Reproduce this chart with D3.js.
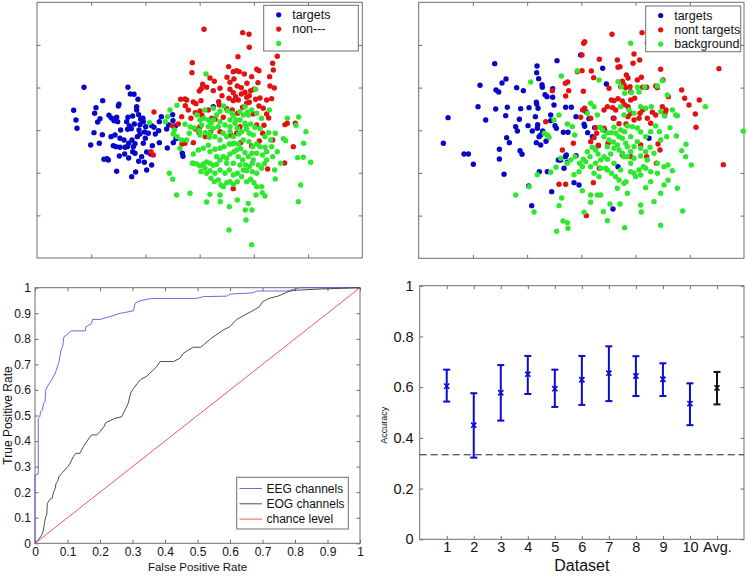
<!DOCTYPE html>
<html>
<head>
<meta charset="utf-8">
<script src="https://cdn.jsdelivr.net/npm/d3@7"></script>
<style>
  body { margin: 0; background: #fff; }
  svg { font-family: "Liberation Sans", Arial, Helvetica, sans-serif; }
</style>
</head>
<body>
<svg width="748" height="576"></svg>
<script>
// ---- scatter data (arbitrary projection units) ----
// left panel
const leftTargets = [[252,538],[221,469],[228,440],[231,415],[288,477],[284,460],[308,498],[282,402],[300,444],[293,434],[272,365],[298,370],[307,396],[327,454],[334,446],[342,438],[350,448],[357,487],[355,482],[340,363],[333,390],[345,395],[353,435],[384,538],[391,518],[402,517],[414,502],[410,480],[384,448],[380,435],[388,422],[398,452],[410,470],[416,456],[422,442],[429,445],[430,435],[420,426],[403,428],[394,414],[383,412],[362,410],[360,385],[372,380],[386,370],[396,380],[405,369],[400,360],[382,360],[374,338],[358,332],[386,326],[405,340],[425,330],[416,316],[440,290],[433,313],[440,344],[430,370],[436,385],[445,400],[455,423],[462,418],[466,398],[457,363],[455,305],[407,284],[395,270],[350,286],[321,324],[312,322],[325,320],[348,360],[360,358],[375,358],[398,345],[412,390],[434,404],[420,398],[484,450],[478,435],[476,408],[500,413],[502,356],[518,456],[519,438],[526,422],[520,372],[528,384],[547,340],[549,331],[640,480],[452,338],[478,372],[506,425],[437,420],[417,410]];
const leftNonTargets = [[612,712],[728,702],[747,697],[748,658],[714,630],[832,631],[818,610],[577,612],[576,582],[686,600],[700,585],[710,588],[718,585],[733,578],[770,592],[777,588],[820,590],[755,570],[630,566],[608,547],[643,556],[681,568],[690,553],[702,563],[712,542],[724,537],[741,550],[752,528],[774,552],[800,500],[809,570],[823,536],[815,504],[767,502],[748,493],[735,523],[724,518],[715,500],[700,498],[687,505],[666,513],[656,495],[640,528],[620,538],[604,534],[603,498],[598,527],[588,489],[580,494],[560,500],[556,483],[542,502],[555,503],[565,470],[573,445],[545,450],[535,428],[518,422],[462,464],[600,467],[606,454],[586,462],[625,470],[635,445],[645,442],[670,448],[680,474],[697,470],[713,460],[728,478],[740,490],[760,458],[777,482],[790,475],[800,458],[806,446],[855,426],[862,430],[886,430],[880,360],[854,311],[803,293],[818,380],[788,400],[778,377],[755,362],[722,372],[710,400],[693,395],[660,405],[632,403],[616,390],[597,402],[586,413],[555,370],[546,368],[580,372],[453,345],[460,335],[700,234],[780,506],[810,542],[762,532],[690,532],[660,535],[740,508],[748,513],[700,522],[707,510],[792,424],[720,420],[600,420],[770,425],[658,485]];
const leftBackground = [[618,578],[767,532],[808,470],[862,445],[896,449],[888,424],[918,405],[911,370],[932,313],[910,328],[893,327],[902,245],[895,195],[857,378],[850,384],[826,400],[812,380],[815,360],[832,345],[842,310],[824,290],[826,263],[800,320],[793,309],[788,335],[780,360],[770,368],[760,395],[748,400],[740,412],[735,430],[720,440],[708,440],[700,453],[696,460],[682,468],[671,482],[660,466],[650,455],[640,440],[633,430],[625,440],[612,445],[605,425],[598,408],[583,416],[571,419],[555,427],[531,484],[510,470],[503,450],[496,435],[448,432],[523,410],[532,390],[545,380],[600,395],[616,402],[630,400],[645,390],[660,380],[680,390],[690,405],[700,390],[716,398],[730,380],[747,375],[758,360],[770,340],[760,320],[748,300],[737,305],[728,320],[715,330],[702,345],[690,338],[680,325],[670,330],[660,320],[650,307],[640,304],[630,310],[620,314],[610,308],[600,302],[590,308],[580,310],[603,285],[620,280],[633,265],[643,255],[655,260],[663,245],[670,240],[680,252],[690,255],[700,247],[712,255],[725,270],[740,255],[752,262],[762,252],[770,240],[785,240],[795,212],[787,222],[768,215],[745,190],[736,170],[738,140],[756,170],[712,200],[688,180],[661,195],[660,215],[630,217],[620,194],[570,220],[530,215],[508,280],[518,262],[687,110],[755,66],[577,310],[580,338],[595,350],[610,355],[630,345],[645,352],[660,355],[672,360],[688,368],[702,370],[715,368],[722,354],[735,342],[745,330],[757,310],[775,305],[785,295],[770,280],[757,285],[740,288],[730,290],[712,280],[700,275],[688,290],[675,280],[660,290],[645,280],[630,288],[615,295],[690,420],[712,415],[725,405],[738,422],[752,428],[765,418],[780,414],[795,390],[806,402],[785,445],[770,460],[755,470],[742,463],[730,455],[655,420],[640,415],[625,420],[675,425],[660,435],[690,440],[705,430],[720,465],[735,480],[745,455],[600,440],[590,455],[615,470],[640,475],[520,398],[540,355],[560,380],[568,400],[625,364],[800,345],[818,330],[756,340],[795,358],[680,310],[700,310],[720,305],[650,330],[696,368],[710,350],[670,400],[628,388]];

// right panel
const rightTargets = [[362,609],[318,544],[222,447],[208,370],[270,338],[283,338],[298,307],[312,480],[335,440],[366,530],[374,524],[384,551],[396,563],[365,473],[395,453],[400,478],[398,387],[406,372],[376,352],[376,323],[390,277],[428,537],[448,528],[425,420],[430,407],[436,442],[440,474],[438,348],[444,337],[465,477],[462,423],[475,407],[484,450],[487,493],[489,602],[488,582],[494,564],[488,488],[492,475],[491,426],[490,415],[495,390],[487,372],[500,395],[505,538],[513,516],[504,546],[519,510],[506,407],[500,365],[496,285],[516,376],[520,285],[530,438],[530,455],[536,534],[536,508],[540,485],[543,423],[549,618],[547,415],[553,320],[568,403],[575,478],[582,403],[577,335],[580,313],[592,478],[606,450],[620,635],[606,333],[600,252],[615,245],[632,421],[630,427],[641,402],[645,444],[655,390],[662,417],[673,363],[686,595],[692,409],[697,548],[718,445],[732,300],[717,173],[464,242],[473,183],[533,225],[570,295],[560,320],[636,465],[825,385],[574,330]];
const rightNonTargets = [[714,697],[804,702],[820,672],[632,675],[629,670],[624,635],[676,622],[730,620],[738,600],[732,598],[780,638],[777,610],[797,620],[860,592],[867,560],[757,575],[762,566],[745,556],[750,546],[740,540],[755,537],[768,540],[770,525],[790,560],[802,568],[806,538],[818,538],[845,542],[850,537],[883,510],[923,530],[932,505],[976,500],[945,485],[964,458],[966,418],[1035,594],[1048,306],[610,585],[624,588],[652,587],[659,567],[581,554],[574,550],[584,528],[575,512],[535,528],[628,526],[705,535],[712,500],[720,498],[716,477],[700,480],[690,470],[725,470],[732,504],[745,497],[752,486],[770,500],[782,505],[762,480],[770,460],[798,460],[806,470],[820,445],[830,430],[865,480],[876,470],[873,460],[835,463],[845,455],[795,445],[780,440],[762,450],[756,428],[735,429],[720,445],[690,415],[665,417],[650,445],[620,448],[632,475],[626,470],[515,435],[565,350],[598,370],[660,387],[668,400],[673,364],[702,370],[745,335],[770,330],[800,365],[818,330],[852,368],[858,350],[847,310],[555,247],[575,247],[637,153],[658,252],[676,295],[650,375]];
const rightBackground = [[770,670],[610,588],[562,572],[470,554],[675,560],[732,555],[742,540],[790,538],[812,538],[850,542],[865,558],[880,515],[895,470],[905,455],[910,453],[888,417],[907,392],[923,348],[936,367],[952,305],[994,480],[1108,406],[878,390],[860,380],[856,405],[845,422],[830,405],[815,390],[800,404],[790,416],[775,420],[760,422],[750,455],[740,480],[765,470],[780,460],[800,480],[815,475],[832,480],[860,465],[872,452],[795,524],[772,522],[752,520],[555,455],[540,440],[580,428],[595,420],[602,395],[640,460],[650,490],[660,480],[670,455],[678,418],[685,410],[700,402],[712,402],[725,400],[735,390],[745,385],[755,370],[770,390],[790,375],[800,355],[815,345],[828,358],[840,340],[820,320],[808,300],[795,290],[780,280],[770,310],[760,330],[745,340],[735,350],[720,355],[710,338],[700,322],[690,330],[680,320],[672,338],[665,350],[655,358],[640,345],[628,322],[617,310],[603,330],[590,320],[580,310],[560,325],[546,298],[530,283],[520,395],[511,400],[525,388],[490,276],[480,164],[465,240],[425,215],[548,106],[567,137],[580,132],[582,115],[555,183],[563,206],[600,276],[615,285],[625,228],[650,215],[670,215],[680,215],[650,193],[630,163],[688,165],[700,138],[708,188],[730,235],[750,250],[752,117],[738,188],[760,220],[770,285],[785,270],[800,275],[800,185],[802,164],[815,237],[830,255],[840,195],[860,220],[860,124],[870,245],[882,259],[895,288],[910,235],[926,167],[935,330],[650,300],[660,280],[675,270],[700,290],[712,280],[725,270],[740,290],[756,255],[735,260],[720,310],[695,295],[680,295],[665,310],[648,330],[635,315],[625,300],[770,345],[780,360],[750,330],[730,365],[718,374],[705,380],[690,390],[720,418],[740,410],[752,405],[760,360],[700,360],[780,325],[800,332],[850,310],[870,300],[882,305],[850,280],[830,285],[815,295]];

// ---- ROC curves, [false positive rate, true positive rate] ----
const eegRoc = [[0,0],[0,0.267],[0.010,0.271],[0.010,0.489],[0.015,0.495],[0.017,0.515],[0.023,0.522],[0.026,0.548],[0.031,0.553],[0.033,0.600],[0.041,0.619],[0.051,0.639],[0.062,0.665],[0.069,0.691],[0.074,0.711],[0.080,0.756],[0.085,0.769],[0.089,0.808],[0.097,0.815],[0.111,0.831],[0.154,0.831],[0.157,0.847],[0.174,0.860],[0.177,0.876],[0.2,0.876],[0.231,0.887],[0.262,0.900],[0.274,0.902],[0.303,0.91],[0.308,0.939],[0.323,0.949],[0.359,0.958],[0.497,0.958],[0.518,0.965],[0.59,0.967],[0.6,0.975],[0.672,0.98],[0.682,0.987],[0.774,0.987],[0.795,0.993],[0.815,1],[1,1]];
const eogRoc = [[0,0],[0.010,0.013],[0.021,0.033],[0.026,0.052],[0.029,0.078],[0.033,0.104],[0.036,0.111],[0.038,0.156],[0.046,0.172],[0.053,0.176],[0.056,0.196],[0.062,0.215],[0.065,0.235],[0.069,0.241],[0.074,0.261],[0.082,0.274],[0.092,0.287],[0.101,0.300],[0.108,0.313],[0.113,0.326],[0.118,0.339],[0.126,0.352],[0.138,0.352],[0.149,0.378],[0.159,0.398],[0.174,0.424],[0.190,0.424],[0.2,0.437],[0.212,0.456],[0.218,0.472],[0.231,0.480],[0.246,0.489],[0.267,0.495],[0.277,0.522],[0.287,0.548],[0.294,0.587],[0.303,0.606],[0.315,0.626],[0.325,0.641],[0.344,0.654],[0.364,0.678],[0.374,0.691],[0.385,0.711],[0.426,0.711],[0.446,0.724],[0.456,0.743],[0.472,0.756],[0.487,0.767],[0.51,0.767],[0.54,0.8],[0.58,0.835],[0.6,0.848],[0.62,0.875],[0.64,0.89],[0.67,0.91],[0.69,0.925],[0.70,0.945],[0.72,0.958],[0.75,0.968],[0.78,0.985],[0.80,0.99],[0.88,0.995],[1,1]];
const chanceRoc = [[0,0],[1,1]];
const rocTicks = [0,0.1,0.2,0.3,0.4,0.5,0.6,0.7,0.8,0.9,1];
const rocTickLabels = ['0','0.1','0.2','0.3','0.4','0.5','0.6','0.7','0.8','0.9','1'];

// ---- accuracy per dataset ----
const datasets = ['1','2','3','4','5','6','7','8','9','10','Avg.'];
const accMean = [0.604,0.45,0.578,0.651,0.594,0.629,0.655,0.644,0.631,0.535,0.597];
const accLow  = [0.543,0.322,0.468,0.573,0.522,0.530,0.545,0.565,0.565,0.45,0.532];
const accHigh = [0.669,0.576,0.687,0.723,0.669,0.723,0.761,0.722,0.694,0.615,0.66];
const chanceAcc = 1/3;
const accTicks = [0,0.2,0.4,0.6,0.8,1];
const accTickLabels = ['0','0.2','0.4','0.6','0.8','1'];

const svg = d3.select('svg');
const frameColor = '#6f6f6f';
const tickLen = 3.5;

// MATLAB-like box: ticks inward on all four sides, labels only left/bottom
function boxAxes(x, y, xt, yt, xfmt, yfmt, fontSize, padX, padY) {
    const [x0, x1] = x.range();
    const [y0, y1] = y.range(); // y0 = bottom
    const g = svg.append('g');
    const clean = a => { a.select('.domain').remove(); a.selectAll('line').attr('stroke', frameColor); a.selectAll('text').attr('fill', '#111').style('font-size', fontSize + 'px'); };
    g.append('g').attr('transform', `translate(0,${y0})`)
        .call(d3.axisBottom(x).tickValues(xt).tickFormat(xfmt).tickSizeInner(-tickLen).tickSizeOuter(0).tickPadding(padX)).call(clean);
    g.append('g').attr('transform', `translate(0,${y1})`)
        .call(d3.axisTop(x).tickValues(xt).tickFormat('').tickSizeInner(-tickLen).tickSizeOuter(0)).call(clean);
    g.append('g').attr('transform', `translate(${x0},0)`)
        .call(d3.axisLeft(y).tickValues(yt).tickFormat(yfmt).tickSizeInner(-tickLen).tickSizeOuter(0).tickPadding(padY)).call(clean);
    g.append('g').attr('transform', `translate(${x1},0)`)
        .call(d3.axisRight(y).tickValues(yt).tickFormat('').tickSizeInner(-tickLen).tickSizeOuter(0)).call(clean);
    g.append('rect').attr('x', x0).attr('y', y1).attr('width', x1 - x0).attr('height', y0 - y1)
        .attr('fill', 'none').attr('stroke', frameColor).attr('stroke-width', 1);
}

const colors = { targets: '#0707c8', non: '#e21212', bg: '#2ee82e' };

function scatterPanel(xs, ys, groups, legendBox, legendItems) {
    const xd = xs.domain(), yd = ys.domain();
    const xt = d3.range(1, 6).map(i => xd[0] + i * (xd[1] - xd[0]) / 6);
    const yt = d3.range(1, 6).map(i => yd[0] + i * (yd[1] - yd[0]) / 6);
    boxAxes(xs, ys, xt, yt, '', '', 10, 0, 0);
    groups.forEach(([data, col]) => {
        svg.append('g').selectAll('circle').data(data).enter().append('circle')
            .attr('cx', d => xs(d[0])).attr('cy', d => ys(d[1])).attr('r', 2.7).attr('fill', col);
    });
    // legend
    const lg = svg.append('g');
    lg.append('rect').attr('x', legendBox[0]).attr('y', legendBox[1]).attr('width', legendBox[2]).attr('height', legendBox[3])
        .attr('fill', '#fff').attr('stroke', frameColor);
    legendItems.forEach((it, i) => {
        const cy = legendBox[1] + 9.5 + i * 14.3;
        lg.append('circle').attr('cx', legendBox[0] + 15).attr('cy', cy).attr('r', 2.6).attr('fill', it[1]);
        lg.append('text').attr('x', legendBox[0] + 28.5).attr('y', cy + 4.3).style('font-size', '12.5px').attr('fill', '#111').text(it[0]);
    });
}

// top-left
scatterPanel(
    d3.scaleLinear().domain([111, 1087]).range([37, 362.3]),
    d3.scaleLinear().domain([26, 793]).range([258, 2.3]),
    [[leftTargets, colors.targets], [leftNonTargets, colors.non], [leftBackground, colors.bg]],
    [263.7, 5.3, 94.6, 45.7],
    [['targets', colors.targets], ['non---', colors.non], ['', colors.bg]]
);

// top-right
scatterPanel(
    d3.scaleLinear().domain([134, 1110]).range([418.7, 744]),
    d3.scaleLinear().domain([25, 793]).range([258.3, 2.3]),
    [[rightTargets, colors.targets], [rightNonTargets, colors.non], [rightBackground, colors.bg]],
    [645.7, 6, 95, 45.7],
    [['targets', colors.targets], ['nont targets', colors.non], ['background', colors.bg]]
);

// ---- ROC panel ----
const rx = d3.scaleLinear().domain([0, 1]).range([35, 360]);
const ry = d3.scaleLinear().domain([0, 1]).range([543.3, 287.7]);
boxAxes(rx, ry, rocTicks, rocTicks, (d, i) => rocTickLabels[i], (d, i) => rocTickLabels[i], 12, 4, 4);

const line = d3.line().x(d => rx(d[0])).y(d => ry(d[1]));
const rocSeries = [
    ['EEG channels', eegRoc, '#5a5ae2'],
    ['EOG channels', eogRoc, '#3a3a3a'],
    ['chance level', chanceRoc, '#ec4646']
];
rocSeries.forEach(s => {
    svg.append('path').datum(s[1]).attr('d', line).attr('fill', 'none').attr('stroke', s[2]).attr('stroke-width', 0.9);
});

svg.append('text').attr('x', rx(0.5)).attr('y', 570.5).attr('text-anchor', 'middle').style('font-size', '11.5px').attr('fill', '#111').text('False Positive Rate');
svg.append('text').attr('transform', `translate(11.5,${ry(0.5)}) rotate(-90)`).attr('text-anchor', 'middle').style('font-size', '12px').attr('fill', '#111').text('True Positive Rate');

const rl = svg.append('g');
rl.append('rect').attr('x', 236.7).attr('y', 477.3).attr('width', 111.6).attr('height', 51.7).attr('fill', '#fff').attr('stroke', frameColor);
rocSeries.forEach((s, i) => {
    const yy = 488.5 + i * 15.3;
    rl.append('line').attr('x1', 239.5).attr('x2', 262).attr('y1', yy).attr('y2', yy).attr('stroke', s[2]).attr('stroke-width', 0.9);
    rl.append('text').attr('x', 266.5).attr('y', yy + 4.2).style('font-size', '12px').attr('fill', '#111').text(s[0]);
});

// ---- accuracy panel ----
const ax = d3.scaleLinear().domain([0, 12]).range([419.7, 744]);
const ay = d3.scaleLinear().domain([0, 1]).range([539.3, 285.7]);
boxAxes(ax, ay, d3.range(1, 12), accTicks, (d, i) => datasets[i], (d, i) => accTickLabels[i], 14.5, 2, 6);

svg.append('line').attr('x1', ax(0)).attr('x2', ax(12)).attr('y1', ay(chanceAcc)).attr('y2', ay(chanceAcc))
    .attr('stroke', '#222').attr('stroke-width', 1).attr('stroke-dasharray', '7,4');

const bars = svg.append('g').selectAll('g').data(datasets).enter().append('g')
    .attr('stroke', (d, i) => i === datasets.length - 1 ? '#111' : '#0b0bd2')
    .attr('stroke-width', 2);
bars.append('line').attr('x1', (d, i) => ax(i + 1)).attr('x2', (d, i) => ax(i + 1))
    .attr('y1', (d, i) => ay(accLow[i])).attr('y2', (d, i) => ay(accHigh[i]));
bars.append('line').attr('x1', (d, i) => ax(i + 1) - 3.5).attr('x2', (d, i) => ax(i + 1) + 3.5)
    .attr('y1', (d, i) => ay(accLow[i])).attr('y2', (d, i) => ay(accLow[i]));
bars.append('line').attr('x1', (d, i) => ax(i + 1) - 3.5).attr('x2', (d, i) => ax(i + 1) + 3.5)
    .attr('y1', (d, i) => ay(accHigh[i])).attr('y2', (d, i) => ay(accHigh[i]));
bars.append('path').attr('stroke-width', 1.6)
    .attr('d', (d, i) => {
        const cx = ax(i + 1), cy = ay(accMean[i]), s = 2.6;
        return `M${cx - s},${cy - s}L${cx + s},${cy + s}M${cx - s},${cy + s}L${cx + s},${cy - s}`;
    });

svg.append('text').attr('x', ax(6)).attr('y', 571).attr('text-anchor', 'middle').style('font-size', '16px').attr('fill', '#111').text('Dataset');
svg.append('text').attr('transform', `translate(387,${ay(0.45)}) rotate(-90)`).attr('text-anchor', 'middle').style('font-size', '9px').attr('fill', '#111').text('Accuracy');
</script>
</body>
</html>
